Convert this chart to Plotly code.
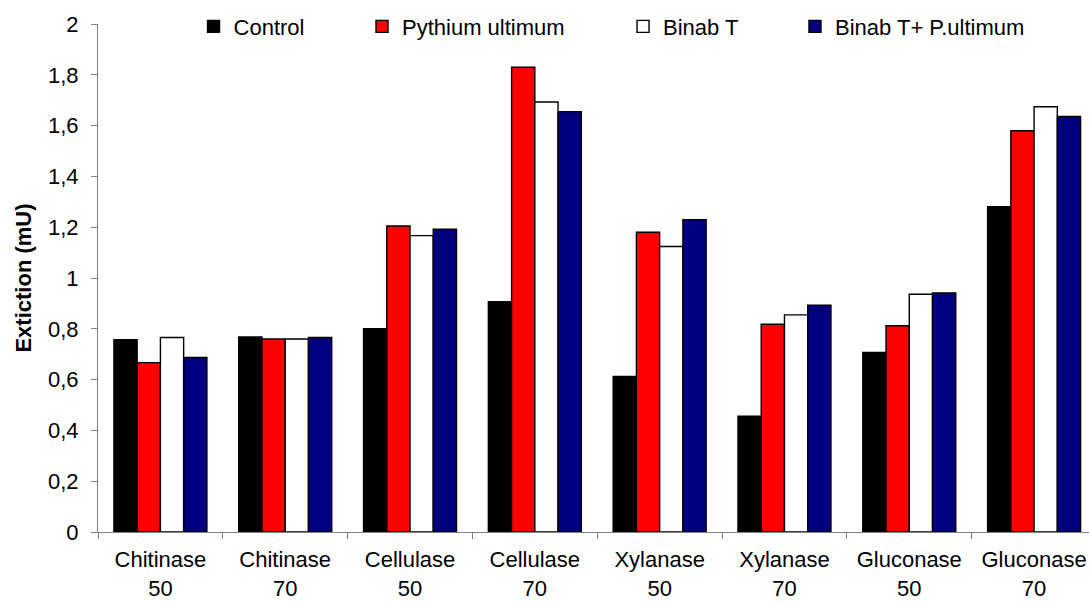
import plotly.graph_objects as go

categories = ["Chitinase<br>50", "Chitinase<br>70", "Cellulase<br>50", "Cellulase<br>70",
              "Xylanase<br>50", "Xylanase<br>70", "Gluconase<br>50", "Gluconase<br>70"]
series_names = ["Control", "Pythium ultimum", "Binab T", "Binab T+ P.ultimum"]
control = [0.757, 0.768, 0.800, 0.907, 0.612, 0.456, 0.707, 1.281]
pythium = [0.667, 0.760, 1.205, 1.830, 1.180, 0.818, 0.812, 1.580]
binab = [0.766, 0.760, 1.167, 1.693, 1.124, 0.855, 0.936, 1.674]
binab_pyth = [0.687, 0.766, 1.192, 1.655, 1.230, 0.893, 0.941, 1.636]
y_ticks = [0, 0.2, 0.4, 0.6, 0.8, 1.0, 1.2, 1.4, 1.6, 1.8, 2.0]

colors = ["#000000", "#FF0000", "#FFFFFF", "#000080"]
values = [control, pythium, binab, binab_pyth]
legend_ids = ["legend", "legend2", "legend3", "legend4"]
legend_x = [0.0964, 0.2664, 0.5298, 0.7033]

FONT = "Liberation Sans, Arial, sans-serif"
FS = 22

fig = go.Figure()
for name, vals, col, lid in zip(series_names, values, colors, legend_ids):
    fig.add_trace(go.Bar(
        x=categories, y=vals, name=name, legend=lid,
        marker=dict(color=col, line=dict(color="#000000", width=1.4)),
    ))

layout_legends = {}
for lid, lx in zip(legend_ids, legend_x):
    layout_legends[lid] = dict(
        x=lx, y=0.995, xanchor="left", yanchor="middle",
        orientation="h", bgcolor="rgba(0,0,0,0)",
        font=dict(family=FONT, size=FS, color="#000000"),
        itemclick=False, itemdoubleclick=False,
    )

fig.update_layout(
    width=1089, height=603,
    margin=dict(l=98, r=0, t=24, b=71),
    paper_bgcolor="#FFFFFF", plot_bgcolor="#FFFFFF",
    separators=",.",
    barmode="group", bargap=0.255, bargroupgap=0,
    font=dict(family=FONT, size=FS, color="#000000"),
    xaxis=dict(
        range=[-0.5, 7.44], showgrid=False, zeroline=False, automargin=False,
        showline=True, linecolor="#808080", linewidth=1,
        ticks="outside", tickson="boundaries", ticklen=6, tickcolor="#808080",
        ticklabelstandoff=8,
        tickfont=dict(family=FONT, size=FS, color="#000000"),
    ),
    yaxis=dict(
        range=[0, 2], tickvals=y_ticks, showgrid=False, zeroline=False, automargin=False,
        showline=True, linecolor="#808080", linewidth=1,
        ticks="outside", ticklen=6, tickcolor="#808080",
        ticklabelstandoff=8,
        tickfont=dict(family=FONT, size=FS, color="#000000"),
        title=dict(text="<b>Extiction (mU)</b>", font=dict(family=FONT, size=FS, color="#000000"), standoff=10),
    ),
    showlegend=True,
    **layout_legends,
)

fig.write_html("out.html")
